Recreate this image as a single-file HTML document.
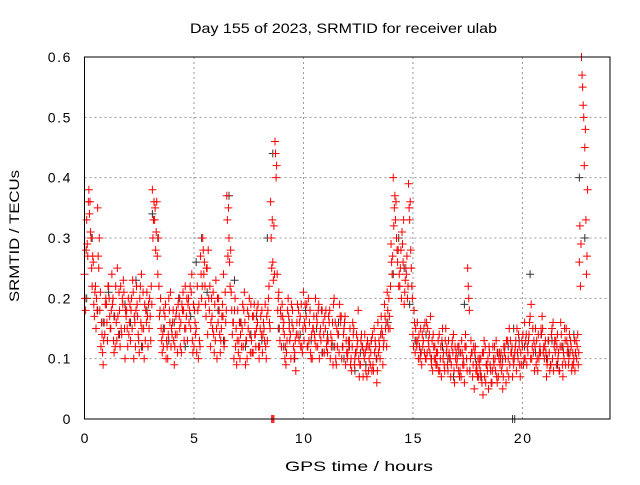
<!DOCTYPE html>
<html><head><meta charset="utf-8"><style>
body{margin:0;background:#fff}
svg text{font-family:"Liberation Sans",sans-serif;font-size:14px;fill:#000}
</style></head><body>
<svg id="chart" width="640" height="480">
<text x="190" y="33" textLength="307" lengthAdjust="spacingAndGlyphs">Day 155 of 2023, SRMTID for receiver ulab</text>
<text x="285" y="471" textLength="148" lengthAdjust="spacingAndGlyphs">GPS time / hours</text>
<text transform="translate(19,302) rotate(-90)" textLength="132" lengthAdjust="spacingAndGlyphs">SRMTID / TECUs</text>
<g id="grid"></g><g id="marks"></g><g id="axes"></g>
</svg>
<script>
const xTicks=[0,5,10,15,20];
const yTicks=[0,0.1,0.2,0.3,0.4,0.5,0.6];
const yTickLabels=["0","0.1","0.2","0.3","0.4","0.5","0.6"];
const redStart=0, redStep=0.1, blackStart=0.1, blackStep=0.25;
const redA=[.24,.33,.38,.30,.26,.22,.35,.18,.14,.16,.19,.22,.15,.20,.12,.25,.18,.14,.21,.17,.20,.13,.23,.16,.19,.11,.24,.15,.18,.12,.17,.38,.33,.36,.22,.15,.12,.19,.10,.16,.14,.09,.18,.20,.16,.21,.22,.13,.18,.24,.12,.15,.10,.27,.30,.22,.25,.18,.20,.14,.23,.16,.11,.19,.13,.37,.30,.21,.16,.12,.18,.10,.15,.21,.13,.17,.19,.11,.14,.16,.12,.18,.15,.10,.20,.36,.26,.46,.24,.15,.12,.16,.09,.20,.14,.18,.11,.16,.13,.19,.21,.15,.12,.18,.10,.14,.17,.19,.13,.16,.15,.11,.18,.13,.20,.09,.14,.16,.12,.17,.10,.13,.08,.15,.11,.18,.09,.12,.14,.07,.10,.13,.08,.12,.16,.10,.14,.19,.12,.20,.29,.40,.33,.26,.22,.31,.19,.24,.39,.28,.14,.11,.16,.12,.09,.15,.10,.13,.17,.08,.12,.09,.14,.07,.11,.15,.08,.10,.13,.06,.09,.12,.07,.10,.14,.25,.08,.11,.05,.09,.07,.10,.04,.12,.08,.11,.06,.09,.13,.07,.10,.05,.12,.08,.15,.11,.09,.13,.10,.07,.12,.16,.09,.14,.19,.11,.15,.08,.12,.17,.10,.07,.13,.09,.16,.11,.14,.08,.12,.10,.15,.09,.13,.11,.08,.12,.26,.60,.50,.33];
const redB=[.18,.27,.36,.22,.17,.20,.25,.12,.09,.19,.13,.17,.24,.11,.16,.14,.22,.19,.10,.15,.16,.20,.10,.18,.14,.22,.12,.19,.21,.15,.22,.33,.28,.24,.18,.11,.15,.13,.20,.12,.18,.14,.11,.15,.19,.13,.17,.20,.15,.11,.16,.22,.13,.20,.24,.17,.28,.12,.15,.19,.10,.18,.15,.24,.16,.27,.22,.14,.18,.09,.13,.16,.12,.09,.18,.14,.11,.19,.15,.12,.17,.14,.19,.13,.16,.25,.32,.40,.20,.18,.17,.10,.13,.15,.19,.12,.08,.14,.17,.11,.16,.19,.13,.10,.15,.20,.12,.14,.18,.11,.12,.17,.14,.09,.16,.12,.19,.10,.15,.13,.13,.09,.16,.10,.12,.07,.14,.11,.08,.12,.09,.14,.11,.06,.13,.17,.12,.15,.18,.15,.24,.35,.30,.22,.28,.26,.23,.20,.33,.22,.18,.13,.10,.15,.12,.16,.11,.14,.09,.12,.09,.13,.10,.15,.08,.12,.11,.09,.14,.10,.12,.08,.11,.06,.10,.20,.13,.09,.12,.07,.10,.06,.13,.09,.05,.08,.12,.10,.06,.11,.08,.12,.06,.10,.13,.07,.11,.15,.12,.09,.09,.13,.11,.17,.12,.08,.13,.10,.15,.11,.13,.10,.08,.15,.12,.09,.11,.16,.07,.13,.11,.14,.08,.10,.13,.09,.22,.55,.45,.27];
const redC=[.20,.29,.34,.25,.19,.15,.27,.21,.11,.14,.16,.20,.18,.13,.22,.17,.12,.20,.15,.18,.14,.18,.21,.12,.17,.20,.15,.10,.16,.19,.13,.30,.35,.27,.17,.13,.18,.10,.14,.21,.16,.12,.14,.17,.11,.18,.15,.19,.22,.13,.18,.11,.19,.24,.28,.19,.14,.22,.17,.11,.15,.20,.13,.17,.21,.33,.26,.18,.10,.15,.11,.14,.19,.16,.10,.20,.13,.17,.12,.19,.15,.11,.13,.17,.22,.30,.23,.44,.18,.13,.19,.14,.11,.17,.10,.15,.13,.19,.16,.12,.13,.17,.20,.11,.15,.13,.16,.10,.18,.14,.18,.13,.10,.16,.12,.15,.11,.17,.14,.09,.11,.15,.12,.09,.14,.10,.13,.07,.11,.13,.12,.08,.15,.10,.11,.14,.09,.17,.21,.17,.26,.32,.36,.28,.25,.29,.21,.27,.35,.25,.12,.15,.13,.10,.14,.11,.16,.12,.10,.14,.10,.11,.08,.13,.09,.11,.13,.07,.11,.12,.10,.07,.13,.09,.12,.22,.10,.07,.11,.08,.09,.07,.11,.06,.10,.09,.08,.12,.07,.10,.11,.07,.10,.13,.09,.12,.10,.08,.14,.11,.14,.10,.12,.16,.10,.13,.09,.14,.11,.15,.12,.09,.11,.14,.08,.13,.10,.12,.09,.15,.13,.10,.12,.09,.11,.14,.32,.57,.42,.24];
const redD=[.28,.36,.31,.27,.21,.18,.30,.16,.13,.20,.22,.15,.19,.17,.13,.21,.15,.23,.18,.12,.19,.15,.17,.22,.13,.16,.21,.13,.17,.20,.19,.36,.31,.30,.20,.14,.17,.12,.18,.15,.13,.17,.19,.12,.18,.15,.20,.16,.21,.19,.14,.18,.12,.22,.26,.25,.20,.16,.21,.13,.20,.14,.17,.12,.18,.35,.28,.16,.20,.13,.16,.12,.18,.13,.15,.11,.17,.14,.18,.10,.14,.16,.12,.18,.15,.33,.24,.42,.21,.17,.15,.12,.18,.13,.16,.10,.14,.18,.12,.15,.19,.12,.16,.14,.17,.12,.18,.15,.11,.17,.13,.16,.12,.19,.10,.14,.17,.12,.16,.11,.12,.10,.14,.11,.13,.09,.12,.10,.12,.08,.11,.09,.13,.08,.12,.15,.13,.16,.15,.22,.27,.37,.28,.24,.20,.33,.25,.22,.36,.20,.16,.12,.14,.11,.13,.10,.15,.11,.13,.10,.11,.08,.12,.10,.13,.09,.10,.12,.08,.11,.08,.11,.09,.12,.08,.18,.11,.12,.08,.10,.08,.11,.07,.09,.12,.06,.10,.08,.11,.09,.09,.11,.13,.07,.11,.10,.12,.11,.09,.13,.10,.14,.13,.10,.15,.12,.10,.11,.14,.12,.11,.13,.09,.10,.13,.12,.08,.14,.11,.09,.12,.11,.09,.13,.10,.11,.29,.52,.48,.38];
const black=[.20,.30,.18,.16,.21,.17,.14,.19,.16,.23,.12,.18,.34,.30,.15,.13,.16,.20,.12,.17,.26,.30,.21,.15,.18,.13,.37,.23,.16,.12,.14,.17,.13,.30,.44,.15,.12,.16,.10,.14,.18,.13,.15,.11,.14,.12,.16,.10,.12,.08,.11,.09,.13,.10,.14,.16,.24,.30,.25,.19,.13,.11,.14,.10,.09,.12,.10,.07,.11,.19,.08,.10,.07,.09,.06,.11,.10,.12,.15,.13,.12,.24,.11,.14,.10,.13,.09,.12,.11,.14,.40,.30];
const redZeroTimes=[8.55,8.6,8.65];
const blackZeroTimes=[19.55,19.65];
const L=84.5,R=610,T=57,B=419;
const xs=t=>L+t*(R-L)/24;
const ys=v=>B-v*(B-T)/0.6;
const NS="http://www.w3.org/2000/svg";
function mk(tag,attrs,parent){const e=document.createElementNS(NS,tag);for(const k in attrs)e.setAttribute(k,attrs[k]);parent.appendChild(e);return e;}
const grid=document.getElementById('grid'),marks=document.getElementById('marks'),axes=document.getElementById('axes');
xTicks.forEach((t,i)=>{
  if(t>0){const g=mk('line',{x1:xs(t),x2:xs(t),y1:T,y2:B,stroke:'#999','stroke-dasharray':'2,3'},grid);
  
  }
  const tx=mk('text',{x:xs(t)+0.8,y:B+24,'text-anchor':'middle','letter-spacing':'1.6'},axes);tx.textContent=t;
  
  
});
yTicks.forEach((v,i)=>{
  if(v>0&&v<0.6){const g=mk('line',{x1:L,x2:R,y1:ys(v),y2:ys(v),stroke:'#999','stroke-dasharray':'2,3'},grid);
  
  }
  const tx=mk('text',{x:L-12.5,y:ys(v)+5,'text-anchor':'end','letter-spacing':'1.6'},axes);tx.textContent=yTickLabels[i];
  
  
});
const frame=mk('rect',{x:L,y:T,width:R-L,height:B-T,fill:'none',stroke:'#000'},axes);


function plus(t,v,color,name){
  const x=xs(t),y=ys(v);
  const p=mk('path',{d:`M${x-4},${y}H${x+4}M${x},${y-4}V${y+4}`,stroke:color,'stroke-width':1,fill:'none'},marks);
  
  
}
black.forEach((v,i)=>plus(blackStart+i*blackStep,v,'#333','black-point'));
blackZeroTimes.forEach(t=>plus(t,0,'#333','black-zero-point'));
redA.forEach((v,i)=>plus(redStart+i*redStep,v,'#f00','red-point'));
redB.forEach((v,i)=>plus(redStart+i*redStep+0.05,v,'#f00','red-point'));
redC.forEach((v,i)=>plus(redStart+i*redStep+0.025,v,'#f00','red-point'));
redD.forEach((v,i)=>plus(redStart+i*redStep+0.075,v,'#f00','red-point'));
redZeroTimes.forEach(t=>plus(t,0,'#f00','red-zero-point'));
</script>
</body></html>
